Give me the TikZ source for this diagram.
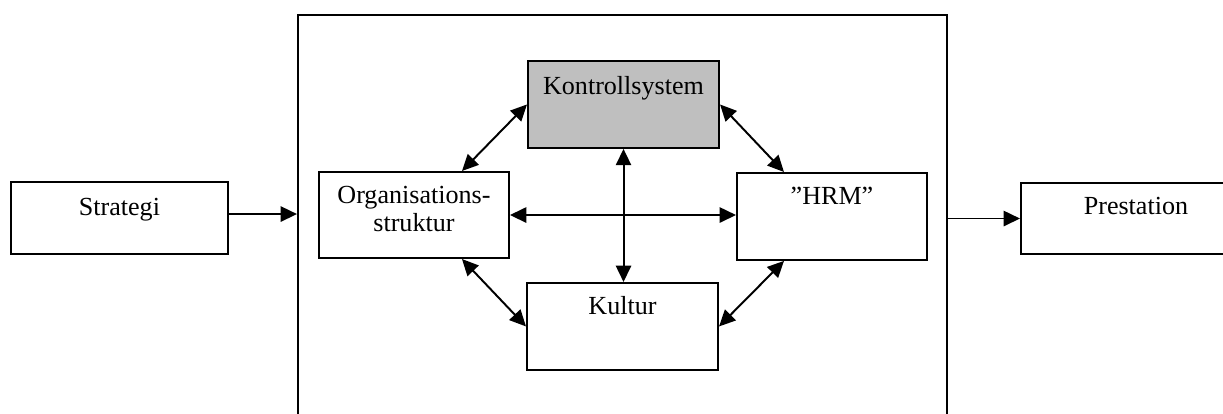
\documentclass[tikz,border=0pt]{standalone}
\usepackage{fontspec}
\setmainfont{Liberation Serif}
\usetikzlibrary{arrows.meta,calc}
\tikzset{
  boks/.style={draw,line width=0.9pt,inner sep=0pt,anchor=north west,align=center,
    font=\fontsize{12}{13}\selectfont},
  pil/.style={line width=0.9pt,-{Triangle[length=7.5pt,width=7pt]}},
  dpil/.style={line width=0.9pt,{Triangle[length=7.5pt,width=7pt]}-{Triangle[length=7.5pt,width=7pt]}}
}
\begin{document}
\begin{tikzpicture}[x=0.46pt,y=-0.46pt]
\useasboundingbox (0,0) rectangle (1223,414);
% outer frame and the boxes
\node[boks,minimum width=298.5pt,minimum height=193.2pt] (ramme) at (297,14) {};
\node[boks,minimum width=99.8pt,text height=15.6pt,text depth=17.5pt] (strategi) at (10,181) {Strategi};
\node[boks,minimum width=105.8pt,text height=14.3pt,text depth=18.4pt] (prestation) at (1020,182) {Prestation};
\node[boks,fill=black!25,minimum width=87.9pt,text height=15.2pt,text depth=24.8pt] (kontroll) at (527,60) {Kontrollsystem};
\node[boks,minimum width=87.4pt,text height=27.6pt,text depth=12pt] (org) at (318,171) {Organisations-\\struktur};
\node[boks,minimum width=87.4pt,text height=14.7pt,text depth=25.3pt] (hrm) at (736,172) {”HRM”};
\node[boks,minimum width=87.9pt,text height=14.7pt,text depth=25.3pt] (kultur) at (526,282) {Kultur};
% in and out
\draw[pil] ([yshift=1.8pt]strategi.east) -- ([yshift=1.8pt]strategi.east -| ramme.west);
\draw[pil] (ramme.east |- prestation.west) -- (prestation.west);
% inside the frame
\draw[dpil] (org.east) -- (org.east -| hrm.west);
\draw[dpil] (kontroll.south) -- (kontroll.south |- kultur.north);
\draw[dpil] ($(org.north)!0.5!(org.north east)$) -- (kontroll.west);
\draw[dpil] (kontroll.east) -- ($(hrm.north)!0.5!(hrm.north west)$);
\draw[dpil] ($(org.south)!0.5!(org.south east)$) -- (kultur.west);
\draw[dpil] (kultur.east) -- ($(hrm.south)!0.5!(hrm.south west)$);
\end{tikzpicture}
\end{document}
